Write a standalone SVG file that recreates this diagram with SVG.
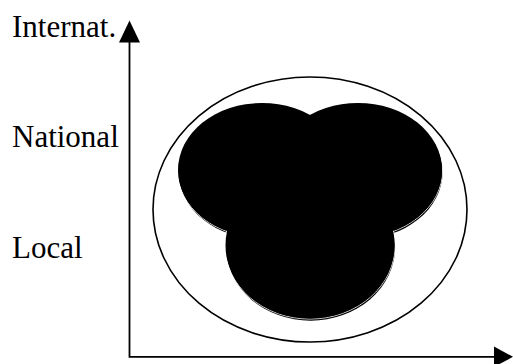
<svg xmlns="http://www.w3.org/2000/svg" width="513" height="364" viewBox="0 0 513 364">
<style>
.lbl{font-family:"Liberation Serif","Times New Roman",serif;font-size:31px;fill:#000}
.axis{stroke:#000;stroke-width:1.8;fill:none}
.head{fill:#000;stroke:none}
.shadow ellipse{fill:#000}
.edge ellipse{fill:none;stroke:#fff;stroke-width:0.8}
.main ellipse{fill:#000}
</style>
<rect width="513" height="364" fill="#fff"/>
<g id="labels">
<text class="lbl" x="12" y="37">Internat.</text>
<text class="lbl" x="12" y="147">National</text>
<text class="lbl" x="12" y="258">Local</text>
</g>
<g id="axes">
<path class="axis" d="M129.5,40 V356.8 H496"/>
<polygon class="head" points="129.5,20.5 140,42.5 119,42.5"/>
<polygon class="head" points="513,356.8 494,346.5 494,367"/>
</g>
<g id="outer">
<ellipse cx="310" cy="209.5" rx="157" ry="132.5" fill="none" stroke="#000" stroke-width="1.6"/>
</g>
<g id="blob">
<g class="shadow" transform="translate(0.6,2.2)">
<ellipse cx="262" cy="170" rx="84" ry="67"/>
<ellipse cx="358" cy="170" rx="84" ry="67"/>
<ellipse cx="310" cy="245" rx="84.5" ry="73.5"/>
</g>
<g class="edge">
<ellipse cx="262" cy="170" rx="84.6" ry="67.6"/>
<ellipse cx="358" cy="170" rx="84.6" ry="67.6"/>
<ellipse cx="310" cy="245" rx="85.1" ry="74.1"/>
</g>
<g class="main">
<ellipse cx="262" cy="170" rx="84" ry="67"/>
<ellipse cx="358" cy="170" rx="84" ry="67"/>
<ellipse cx="310" cy="245" rx="84.5" ry="73.5"/>
</g>
</g>
</svg>
